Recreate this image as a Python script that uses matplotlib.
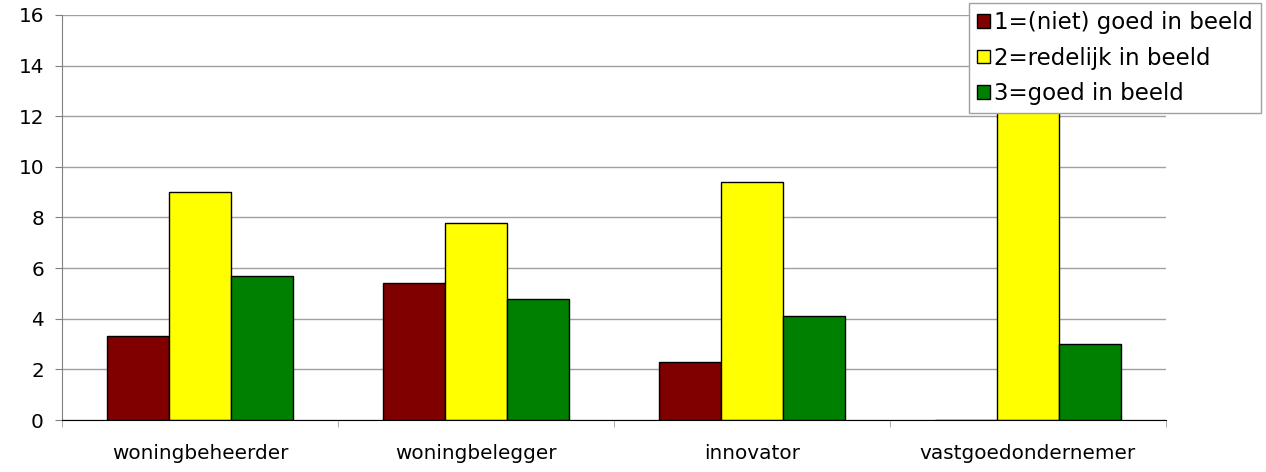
import numpy as np
import matplotlib
matplotlib.use("Agg")
import matplotlib.pyplot as plt

# ===== данные =====
categories = ["woningbeheerder", "woningbelegger", "innovator", "vastgoedondernemer"]
series_names = ["1=(niet) goed in beeld", "2=redelijk in beeld", "3=goed in beeld"]
niet_goed = [3.3, 5.4, 2.3, 0]
redelijk = [9.0, 7.8, 9.4, 13.0]
goed = [5.7, 4.8, 4.1, 3.0]
colors = ["#800000", "#FFFF00", "#008000"]

plt.rcParams["font.family"] = ["DejaVu Sans"]

fig = plt.figure(figsize=(12.66, 4.72), dpi=100)
ax = fig.add_axes([62 / 1266, 52 / 472, (1166 - 62) / 1266, (420 - 15) / 472])

x = np.arange(len(categories))
w = 0.225
for i, (vals, name, c) in enumerate(zip([niet_goed, redelijk, goed], series_names, colors)):
    ax.bar(x + (i - 1) * w, vals, width=w, color=c, edgecolor="black",
           linewidth=1, label=name, zorder=3)

ax.set_xlim(-0.5, len(categories) - 0.5)
ax.set_ylim(0, 16)
ax.set_yticks(np.arange(0, 17, 2))
ax.yaxis.grid(True, color="#a0a0a0", linewidth=1, zorder=0)

ax.set_xticks(x)
ax.set_xticklabels(categories, fontsize=14.4)
ax.set_xticks(np.arange(-0.5, len(categories)), minor=True)
ax.tick_params(axis="x", which="major", length=0, pad=17)
ax.tick_params(axis="x", which="minor", length=5, color="#a0a0a0", direction="out")
ax.tick_params(axis="y", length=5, color="#808080", labelsize=14.4, pad=8)

for s in ["top", "right"]:
    ax.spines[s].set_visible(False)
ax.spines["left"].set_color("#808080")
ax.spines["bottom"].set_color("black")
ax.spines["bottom"].set_zorder(4)

leg = fig.legend(loc="upper right", bbox_to_anchor=(1261 / 1266, 1 - 3 / 472),
                 fontsize=16.5, fancybox=False, framealpha=1, edgecolor="#a0a0a0",
                 handlelength=0.55, handleheight=0.55, handletextpad=0.2,
                 labelspacing=0.55, borderpad=0.35, borderaxespad=0)
leg.get_frame().set_linewidth(1)

fig.savefig("out.png", dpi=100)
